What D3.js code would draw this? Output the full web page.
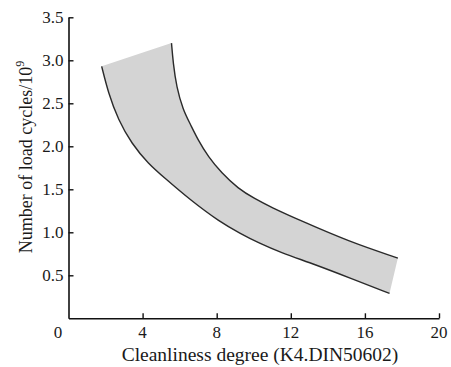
<!DOCTYPE html>
<html>
<head>
<meta charset="utf-8">
<script src="https://cdn.jsdelivr.net/npm/d3@7"></script>
<style>
  html, body { margin: 0; padding: 0; background: #fff; }
  svg { display: block; }
  text { font-family: "Liberation Serif", "Times New Roman", serif; fill: #1a1a1a; }
</style>
</head>
<body>
<svg id="chart" width="451" height="367"></svg>
<script>
// Band boundaries: fatigue life (10^9 load cycles) vs cleanliness degree
const upperX = [5.56, 5.65, 5.83, 6.19, 6.55, 7.00, 7.54, 8.26, 9.15, 10.05, 10.95, 12.48, 15.17, 17.78];
const upperY = [3.20, 2.97, 2.69, 2.42, 2.27, 2.07, 1.88, 1.69, 1.51, 1.39, 1.29, 1.14, 0.89, 0.70];
const lowerX = [1.79, 2.15, 2.68, 3.41, 4.30, 5.20, 6.55, 8.17, 9.25, 10.32, 11.40, 13.38, 15.18, 17.33];
const lowerY = [2.93, 2.62, 2.31, 2.03, 1.80, 1.63, 1.38, 1.12, 0.99, 0.87, 0.77, 0.62, 0.47, 0.29];

const xTicks = [4, 8, 12, 16, 20];
const yTicks = [0.5, 1.0, 1.5, 2.0, 2.5, 3.0, 3.5];
const originLabel = "0";
const xTitle = "Cleanliness degree (K4.DIN50602)";
const yTitle = "Number of load cycles/10";
const yTitleExp = "9";

const svg = d3.select("#chart");
const x = d3.scaleLinear().domain([0, 20]).range([68.5, 439]);
const y = d3.scaleLinear().domain([0, 3.5]).range([318.3, 17.3]);

const upper = upperX.map((v, i) => [v, upperY[i]]);
const lower = lowerX.map((v, i) => [v, lowerY[i]]);

// smooth B-spline through the boundary readings
const curve = d3.line().x(d => x(d[0])).y(d => y(d[1])).curve(d3.curveBasis);

// shaded band: lower boundary forward, upper boundary backward
const lowerPath = curve(lower);
const upperRevPath = curve(upper.slice().reverse());
svg.append("path")
  .attr("d", lowerPath + "L" + upperRevPath.slice(1) + "Z")
  .attr("fill", "#d4d4d4")
  .attr("stroke", "none");

svg.append("path").attr("d", curve(lower))
  .attr("fill", "none").attr("stroke", "#2a2a2a").attr("stroke-width", 1.4);
svg.append("path").attr("d", curve(upper))
  .attr("fill", "none").attr("stroke", "#2a2a2a").attr("stroke-width", 1.4);

// axes with inward ticks
const xAxis = svg.append("g").attr("transform", `translate(0,${y(0)})`)
  .call(d3.axisTop(x).tickValues(xTicks).tickSize(5).tickSizeOuter(0).tickFormat(""));
const yAxis = svg.append("g").attr("transform", `translate(${x(0)},0)`)
  .call(d3.axisRight(y).tickValues(yTicks).tickSize(5).tickSizeOuter(0).tickFormat(""));
[xAxis, yAxis].forEach(g => {
  g.select(".domain").attr("stroke", "#111").attr("stroke-width", 1.6);
  g.selectAll(".tick line").attr("stroke", "#111").attr("stroke-width", 1.4);
});

// tick labels
svg.append("g").selectAll("text").data(xTicks).join("text")
  .attr("x", d => x(d)).attr("y", 338)
  .attr("text-anchor", "middle").attr("font-size", 17)
  .text(d => d);
svg.append("text").attr("x", x(0) - 10.5).attr("y", 338)
  .attr("text-anchor", "middle").attr("font-size", 17).text(originLabel);
svg.append("g").selectAll("text").data(yTicks).join("text")
  .attr("x", 63.5).attr("y", d => y(d) + 6)
  .attr("text-anchor", "end").attr("font-size", 17)
  .text(d => d.toFixed(1));

// axis titles
svg.append("text").attr("x", 260).attr("y", 360.5)
  .attr("text-anchor", "middle").attr("font-size", 19.5).text(xTitle);

const yt = svg.append("text")
  .attr("transform", "translate(31.5,157) rotate(-90)")
  .attr("text-anchor", "middle").attr("font-size", 18);
yt.append("tspan").text(yTitle);
yt.append("tspan").attr("font-size", 12).attr("dy", -8).text(yTitleExp);
</script>
</body>
</html>
